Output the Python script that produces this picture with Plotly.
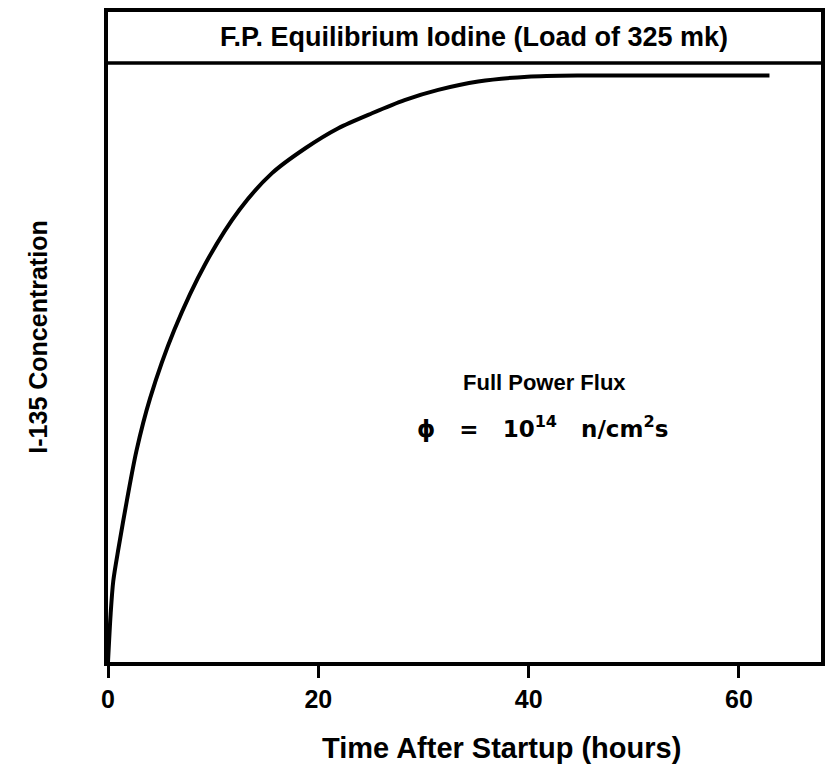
import plotly.graph_objects as go

# Data (time in hours, concentration relative to F.P. equilibrium)
time_h = [0, 0.25, 0.5, 1.0, 1.8, 2.7, 4.0, 6.3, 9.3, 12.5, 15.6, 18.8, 21.9, 25.1,
          28.2, 31.4, 35.2, 39.9, 45.0, 50.0, 55.0, 62.9]
i135 = [0.0, 0.08, 0.135, 0.19, 0.27, 0.352, 0.44, 0.554, 0.666, 0.755, 0.816, 0.858,
        0.891, 0.916, 0.938, 0.955, 0.969, 0.977, 0.979, 0.979, 0.979, 0.979]
equilibrium_level = 1.0
x_ticks = [0, 20, 40, 60]

FONT = "Liberation Sans"

fig = go.Figure()
fig.add_trace(go.Scatter(
    x=time_h, y=i135, mode="lines",
    line=dict(color="black", width=4, shape="spline", smoothing=0.8),
    hoverinfo="skip", showlegend=False))

# equilibrium line
fig.add_shape(type="line", xref="paper", x0=0, x1=1, yref="y", y0=equilibrium_level, y1=equilibrium_level,
              line=dict(color="black", width=3.5))

fig.add_annotation(text="F.P. Equilibrium Iodine (Load of 325 mk)", xref="paper", x=0.513, yref="y", y=1.043,
                   showarrow=False, font=dict(family=FONT, size=27, color="black", weight="bold"))
fig.add_annotation(text="Full Power Flux", xref="x", x=41.5, yref="y", y=0.466,
                   showarrow=False, font=dict(family=FONT, size=22, color="black", weight="bold"))
fig.add_annotation(text="ϕ   =   10<sup>14</sup>   n/cm<sup>2</sup>s", xref="x", x=41.3, yref="y", y=0.393,
                   showarrow=False, font=dict(family="DejaVu Sans", size=23, color="black", weight="bold"))
# x-axis title (off-centre in the original)
fig.add_annotation(text="Time After Startup (hours)", xref="paper", x=0.552, yref="paper", y=-0.132,
                   showarrow=False, yanchor="middle",
                   font=dict(family=FONT, size=29, color="black", weight="bold"))

fig.update_xaxes(range=[0, 67.8], tickvals=x_ticks, ticktext=[str(v) for v in x_ticks],
                 showline=True, mirror=True, linecolor="black", linewidth=4,
                 ticks="outside", ticklen=12, tickwidth=2.5, tickcolor="black",
                 showgrid=False, zeroline=False,
                 tickfont=dict(family=FONT, size=25, color="black", weight="bold"))
fig.update_yaxes(range=[0, 1.085], showticklabels=False, ticks="",
                 showline=True, mirror=True, linecolor="black", linewidth=4,
                 showgrid=False, zeroline=False,
                 title=dict(text="I-135 Concentration", standoff=50,
                            font=dict(family=FONT, size=25, color="black", weight="bold")))

fig.update_layout(width=829, height=770, margin=dict(l=108, r=4, t=12, b=108),
                  plot_bgcolor="white", paper_bgcolor="white")

fig.write_html("out.html")
